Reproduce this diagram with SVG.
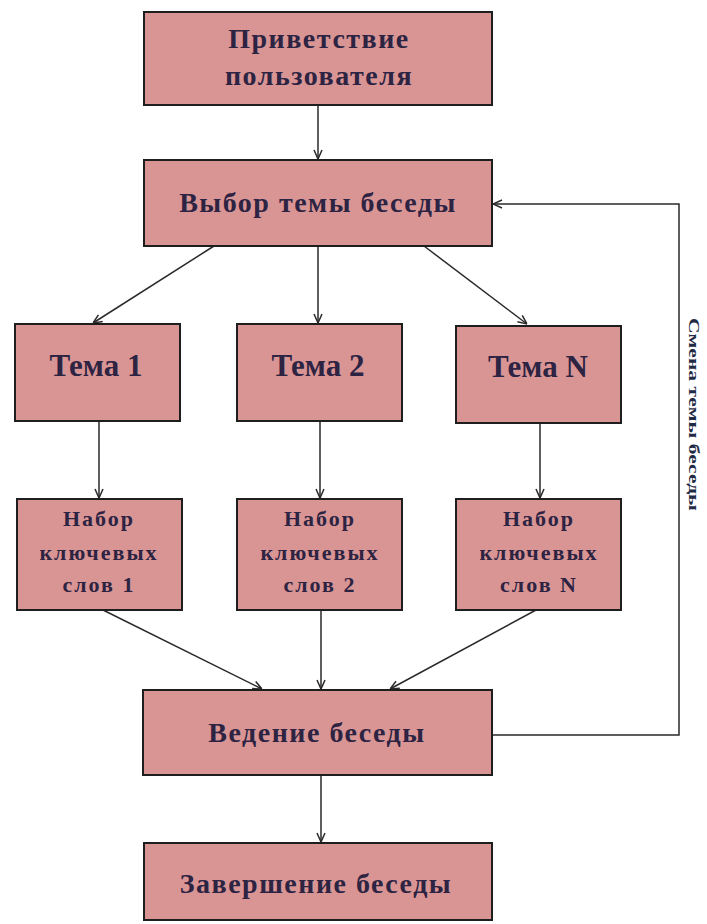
<svg xmlns="http://www.w3.org/2000/svg" width="707" height="924" viewBox="0 0 707 924">
<defs>
<style>
.box{fill:#d99594;stroke:#1e1e1e;stroke-width:2}
.t{font-family:"Liberation Serif","Times New Roman",serif;font-weight:bold;fill:#2d2342;text-anchor:middle}
.big{font-size:28px;letter-spacing:1.5px}
.tema{font-size:31px}
.nab{font-size:22px;letter-spacing:2px}
.side{font-size:14px;fill:#1f2a44}
.c{fill:none;stroke:#2a2a2a;stroke-width:1.5}
</style>
<marker id="ah" viewBox="0 0 10 10" refX="10" refY="5" markerWidth="10" markerHeight="10" markerUnits="userSpaceOnUse" orient="auto">
<path d="M1,1 L10,5 L1,9" fill="none" stroke="#2a2a2a" stroke-width="1.5"/>
</marker>
</defs>
<rect width="707" height="924" fill="#ffffff"/>
<g id="connectors">
<line class="c" x1="318" y1="105" x2="318" y2="159" marker-end="url(#ah)"/>
<line class="c" x1="214" y1="246" x2="93" y2="323" marker-end="url(#ah)"/>
<line class="c" x1="318" y1="246" x2="318" y2="323" marker-end="url(#ah)"/>
<line class="c" x1="424" y1="246" x2="527" y2="324" marker-end="url(#ah)"/>
<line class="c" x1="99" y1="421" x2="99" y2="498" marker-end="url(#ah)"/>
<line class="c" x1="320" y1="421" x2="320" y2="498" marker-end="url(#ah)"/>
<line class="c" x1="540" y1="423" x2="540" y2="498" marker-end="url(#ah)"/>
<line class="c" x1="103" y1="610" x2="262" y2="689" marker-end="url(#ah)"/>
<line class="c" x1="321" y1="610" x2="321" y2="689" marker-end="url(#ah)"/>
<line class="c" x1="536" y1="610" x2="390" y2="689" marker-end="url(#ah)"/>
<line class="c" x1="321" y1="775" x2="321" y2="842" marker-end="url(#ah)"/>
<polyline class="c" points="492,735 679,735 679,204 493,204" marker-end="url(#ah)"/>
<text class="t side" transform="translate(689,414.5) rotate(90)" x="0" y="0" textLength="193" lengthAdjust="spacingAndGlyphs">Смена темы беседы</text>
</g>
<g id="greeting">
<rect class="box" x="144" y="12" width="348" height="93"/>
<text class="t big" x="319" y="48">Приветствие</text>
<text class="t big" x="319" y="85">пользователя</text>
</g>
<g id="choose-topic">
<rect class="box" x="144" y="160" width="348" height="86"/>
<text class="t big" x="318" y="212">Выбор темы беседы</text>
</g>
<g id="topic-1">
<rect class="box" x="15" y="324" width="165" height="97"/>
<text class="t tema" x="96" y="376">Тема 1</text>
</g>
<g id="topic-2">
<rect class="box" x="237" y="324" width="165" height="97"/>
<text class="t tema" x="318" y="376">Тема 2</text>
</g>
<g id="topic-n">
<rect class="box" x="456" y="326" width="165" height="97"/>
<text class="t tema" x="538" y="377">Тема N</text>
</g>
<g id="keywords-1">
<rect class="box" x="17" y="499" width="165" height="111"/>
<text class="t nab" x="99" y="526">Набор</text>
<text class="t nab" x="99" y="560">ключевых</text>
<text class="t nab" x="99" y="592">слов 1</text>
</g>
<g id="keywords-2">
<rect class="box" x="237" y="499" width="165" height="111"/>
<text class="t nab" x="320" y="526">Набор</text>
<text class="t nab" x="320" y="560">ключевых</text>
<text class="t nab" x="320" y="592">слов 2</text>
</g>
<g id="keywords-n">
<rect class="box" x="456" y="499" width="165" height="111"/>
<text class="t nab" x="539" y="526">Набор</text>
<text class="t nab" x="539" y="560">ключевых</text>
<text class="t nab" x="539" y="592">слов N</text>
</g>
<g id="conversation">
<rect class="box" x="143" y="690" width="349" height="85"/>
<text class="t big" x="317" y="742">Ведение беседы</text>
</g>
<g id="finish">
<rect class="box" x="144" y="843" width="348" height="77"/>
<text class="t big" x="316" y="893">Завершение беседы</text>
</g>
</svg>
